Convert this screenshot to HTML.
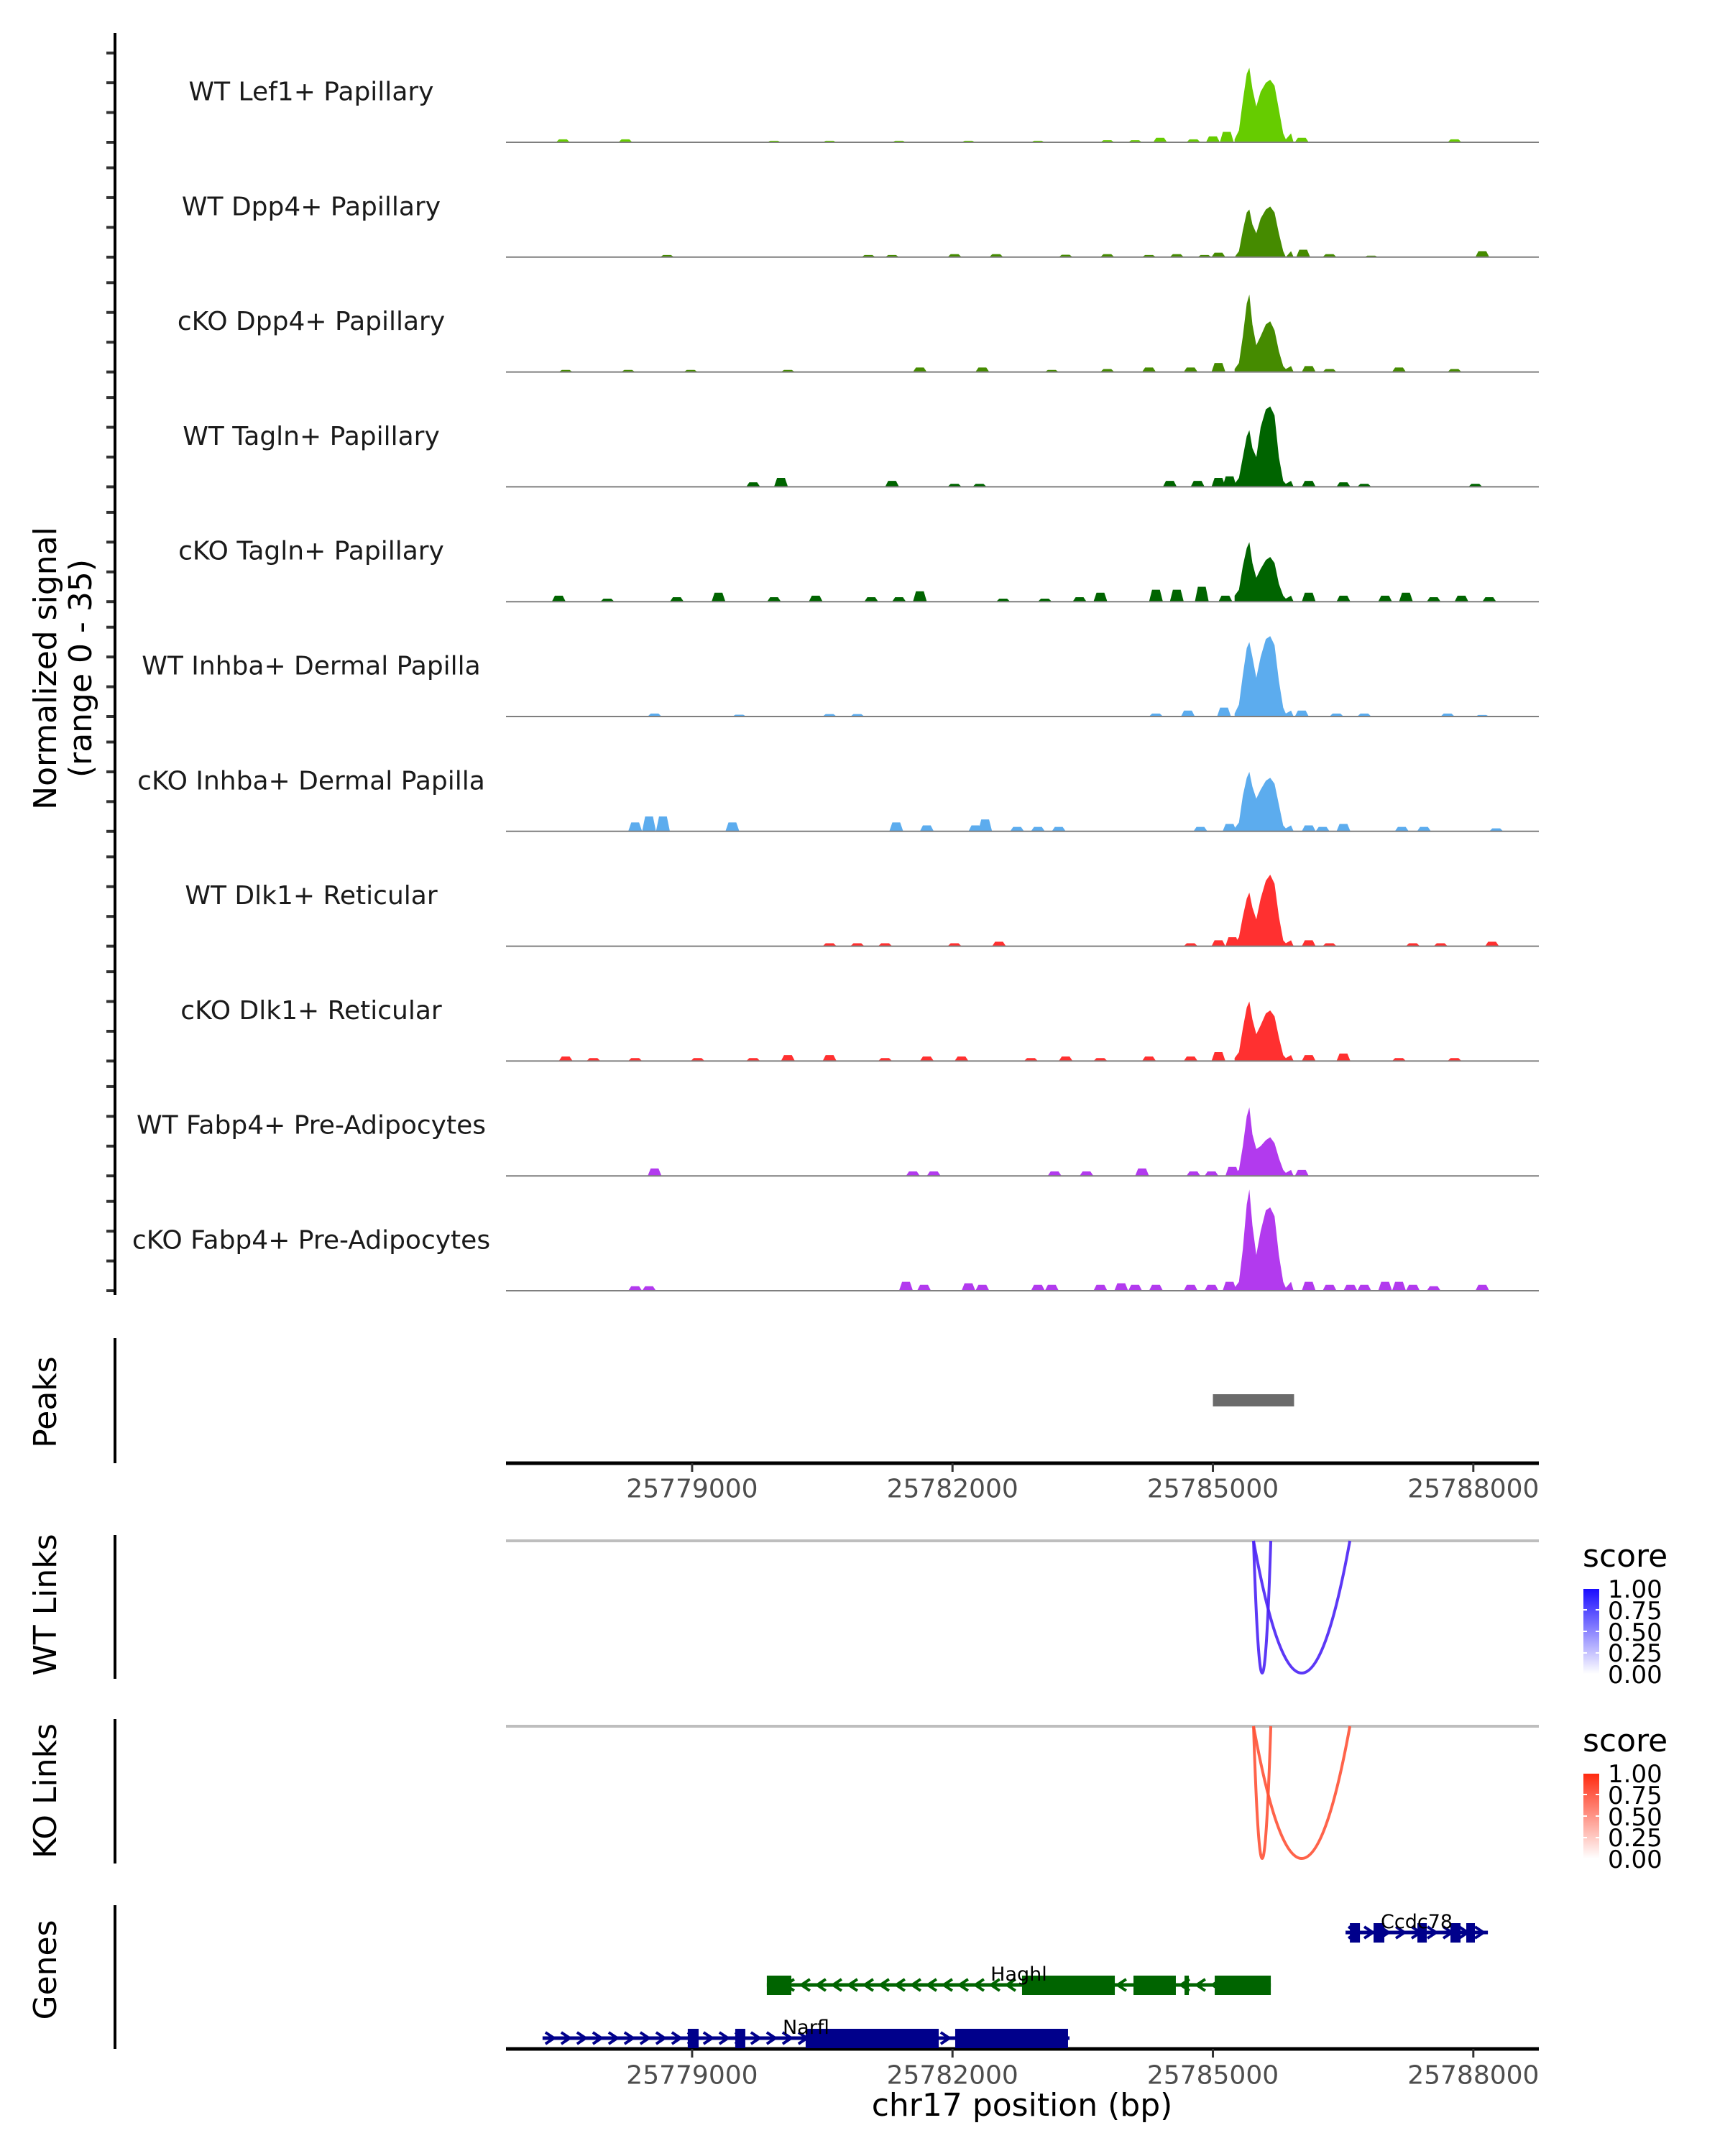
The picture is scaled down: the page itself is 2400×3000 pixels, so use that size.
<!DOCTYPE html>
<html><head><meta charset="utf-8"><style>
html,body{margin:0;padding:0;background:#fff;}
svg{display:block;font-family:"DejaVu Sans","Liberation Sans",sans-serif;}
</style></head><body>
<svg id="chart" xmlns="http://www.w3.org/2000/svg" width="2400" height="3000" viewBox="0 0 2400 3000">
<rect width="2400" height="3000" fill="#fff"/>
<g id="tracks"></g>
<g id="axes"></g>
<g id="peaks"></g>
<g id="links"></g>
<g id="genes"></g>
<text transform="translate(78,930) rotate(-90)" text-anchor="middle" font-size="44" fill="#000">Normalized signal</text>
<text transform="translate(127,930) rotate(-90)" text-anchor="middle" font-size="44" fill="#000">(range 0 - 35)</text>
<text transform="translate(78,1951) rotate(-90)" text-anchor="middle" font-size="44" fill="#000">Peaks</text>
<text transform="translate(78,2233) rotate(-90)" text-anchor="middle" font-size="44" fill="#000">WT Links</text>
<text transform="translate(78,2492) rotate(-90)" text-anchor="middle" font-size="44" fill="#000">KO Links</text>
<text transform="translate(78,2741) rotate(-90)" text-anchor="middle" font-size="44" fill="#000">Genes</text>
<text x="1422" y="2944" text-anchor="middle" font-size="44" fill="#000">chr17 position (bp)</text>
<defs>
<linearGradient id="gblue" x1="0" y1="1" x2="0" y2="0"><stop offset="0" stop-color="#ffffff"/><stop offset="1" stop-color="#1a0dff"/></linearGradient>
<linearGradient id="gred" x1="0" y1="1" x2="0" y2="0"><stop offset="0" stop-color="#ffffff"/><stop offset="1" stop-color="#ff2a10"/></linearGradient>
</defs>
<g transform="translate(-25,-25)">
<text x="2227" y="2205" font-size="44" fill="#000">score</text>
<rect x="2228" y="2236" width="22" height="118" fill="url(#gblue)"/>
<g font-size="34" fill="#000"><text x="2262" y="2248">1.00</text><text x="2262" y="2278">0.75</text><text x="2262" y="2308">0.50</text><text x="2262" y="2337">0.25</text><text x="2262" y="2367">0.00</text></g>
<g stroke="#fff" stroke-width="2"><line x1="2228" y1="2265" x2="2233" y2="2265"/><line x1="2245" y1="2265" x2="2250" y2="2265"/><line x1="2228" y1="2295" x2="2233" y2="2295"/><line x1="2245" y1="2295" x2="2250" y2="2295"/><line x1="2228" y1="2325" x2="2233" y2="2325"/><line x1="2245" y1="2325" x2="2250" y2="2325"/></g>
</g>
<g transform="translate(-25,-27)">
<text x="2227" y="2464" font-size="44" fill="#000">score</text>
<rect x="2228" y="2495" width="22" height="118" fill="url(#gred)"/>
<g font-size="34" fill="#000"><text x="2262" y="2507">1.00</text><text x="2262" y="2537">0.75</text><text x="2262" y="2567">0.50</text><text x="2262" y="2596">0.25</text><text x="2262" y="2626">0.00</text></g>
<g stroke="#fff" stroke-width="2"><line x1="2228" y1="2524" x2="2233" y2="2524"/><line x1="2245" y1="2524" x2="2250" y2="2524"/><line x1="2228" y1="2554" x2="2233" y2="2554"/><line x1="2245" y1="2554" x2="2250" y2="2554"/><line x1="2228" y1="2584" x2="2233" y2="2584"/><line x1="2245" y1="2584" x2="2250" y2="2584"/></g>
</g>
</svg>
<script>
const trackNames = ["WT Lef1+ Papillary","WT Dpp4+ Papillary","cKO Dpp4+ Papillary","WT Tagln+ Papillary","cKO Tagln+ Papillary","WT Inhba+ Dermal Papilla","cKO Inhba+ Dermal Papilla","WT Dlk1+ Reticular","cKO Dlk1+ Reticular","WT Fabp4+ Pre-Adipocytes","cKO Fabp4+ Pre-Adipocytes"];
const trackColors = ["#66CC00","#458B00","#458B00","#006400","#006400","#5CACEE","#5CACEE","#FF3030","#FF3030","#B23AEE","#B23AEE"];
const peakBp = [25785250,25785300,25785345,25785390,25785420,25785455,25785500,25785550,25785610,25785660,25785710,25785760,25785810,25785840,25785900,25785930];
const peakVals = [
 [1,4,14,23,25,18,12,17,20,21,19,11,3,1,3,0],
 [0,2,9,15,16,11,8,13,16,17,15,8,2,0,2,0],
 [1,3,12,23,26,16,9,12,16,17,14,7,2,1,2,0],
 [1,3,10,17,19,13,10,20,26,27,24,10,2,1,2,0],
 [2,4,12,18,20,13,8,11,14,15,13,6,2,1,2,0],
 [1,4,14,23,25,20,13,20,26,27,24,12,3,1,2,0],
 [1,3,12,18,20,15,11,14,17,18,16,9,2,1,2,0],
 [1,3,10,16,18,13,9,16,22,24,21,10,2,1,2,0],
 [1,3,11,18,20,14,9,12,16,17,15,8,2,1,2,0],
 [1,2,10,20,23,14,9,10,12,13,11,6,2,1,2,0],
 [1,3,14,29,34,22,12,20,27,28,25,12,3,1,3,0]
];
const bumps = [
 [[25777512,1],[25778232,1],[25779944,0.5],[25780584,0.5],[25781384,0.5],[25782184,0.5],[25782984,0.5],[25783784,0.7],[25784104,0.7],[25784392,1.5],[25784776,1],[25785000,2],[25785160,3.5],[25786024,1.5],[25787784,1]],
 [[25778712,0.7],[25781032,0.7],[25781304,0.7],[25782024,1],[25782504,1],[25783304,0.8],[25783784,1],[25784264,0.7],[25784584,1],[25784904,0.7],[25785064,1.5],[25786040,2.5],[25786344,1],[25786824,0.5],[25788104,2]],
 [[25777544,0.7],[25778264,0.7],[25778984,0.7],[25780104,0.7],[25781624,1.5],[25782344,1.5],[25783144,0.7],[25783784,1],[25784264,1.5],[25784744,1.5],[25785064,3],[25786104,2],[25786344,1],[25787144,1.5],[25787784,1]],
 [[25779704,1.5],[25780024,3],[25781304,2],[25782024,1],[25782312,1],[25784504,2],[25784824,2],[25785064,3],[25785192,3.5],[25786104,2],[25786504,1.5],[25786744,1],[25788024,1]],
 [[25777464,2],[25778024,1],[25778824,1.5],[25779304,3],[25779944,1.5],[25780424,2],[25781064,1.5],[25781384,1.5],[25781624,3.5],[25782584,1],[25783064,1],[25783464,1.5],[25783704,3],[25784344,4],[25784584,4],[25784872,5],[25785144,2],[25786104,3],[25786504,2],[25786984,2],[25787224,3],[25787544,1.5],[25787864,2],[25788184,1.5]],
 [[25778568,1],[25779544,0.6],[25780584,0.8],[25780904,0.8],[25784344,1],[25784712,2],[25785128,3],[25786024,2],[25786424,1],[25786744,1],[25787704,1],[25788104,0.5]],
 [[25778344,3],[25778504,5],[25778664,5],[25779464,3],[25781352,3],[25781704,2],[25782264,2],[25782376,4],[25782744,1.5],[25782984,1.5],[25783224,1.5],[25784856,1.5],[25785192,2.5],[25786104,2],[25786264,1.5],[25786504,2.5],[25787176,1.5],[25787432,1.5],[25788264,1]],
 [[25780584,1],[25780904,1],[25781224,1],[25782024,1],[25782536,1.5],[25784744,1],[25785064,2],[25785224,3],[25786104,2],[25786344,1],[25787304,1],[25787624,1],[25788216,1.5]],
 [[25777544,1.5],[25777864,1],[25778344,1],[25779064,1],[25779704,1],[25780104,2],[25780584,2],[25781224,1],[25781704,1.5],[25782104,1.5],[25782904,1],[25783304,1.5],[25783704,1],[25784264,1.5],[25784744,1.5],[25785064,3],[25786104,2],[25786504,2.5],[25787144,1],[25787784,1]],
 [[25778568,2.5],[25781544,1.5],[25781784,1.5],[25783176,1.5],[25783544,1.5],[25784184,2.5],[25784776,1.5],[25784984,1.5],[25785224,3],[25786024,2]],
 [[25778344,1.5],[25778504,1.5],[25781464,3],[25781672,2],[25782184,2.5],[25782344,2],[25782984,2],[25783144,2],[25783704,2],[25783944,2.5],[25784104,2],[25784344,2],[25784744,2],[25784984,2],[25785192,3],[25786104,3],[25786344,2],[25786584,2],[25786744,2],[25786984,3],[25787144,3],[25787304,2],[25787544,1.5],[25788104,2]]
];
const xTicks = [25779000,25782000,25785000,25788000];
const yTicks = [0,10,20,30];
const peakRegions = [[25785000,25785935]];
const wtLinks = [[25785468,25785667,0.8],[25785468,25786578,0.8]];
const koLinks = [[25785468,25785667,0.8],[25785468,25786578,0.8]];
const geneNames = ["Ccdc78","Haghl","Narfl"];
const geneStrand = [1,-1,1];
const geneSpan = [[25786528,25788168],[25779861,25785667],[25777277,25783348]];
const geneExons = [
 [[25786578,25786694],[25786851,25786975],[25787356,25787464],[25787737,25787853],[25787919,25788018]],
 [[25779861,25780143],[25782801,25783870],[25784085,25784573],[25784673,25784723],[25785021,25785667]],
 [[25778950,25779075],[25779497,25779613],[25780308,25781841],[25782031,25783331]]
];

const NS="http://www.w3.org/2000/svg";
const X0=704, X1=2141, B0=25776856, B1=25788755;
function xs(bp){return X0+(bp-B0)/(B1-B0)*(X1-X0);}
const base0=198, step=159.8, TH=145, YMAX=35;
function ys(i,v){return base0+step*i - v/YMAX*TH;}
function mk(tag,attrs,parent){const e=document.createElementNS(NS,tag);for(const k in attrs)e.setAttribute(k,attrs[k]);parent.appendChild(e);return e;}
const gT=document.getElementById('tracks'), gA=document.getElementById('axes');

trackNames.forEach((name,i)=>{
  const g=mk('g',{},gT);
  
  
  const base=ys(i,0);
  const lab=mk('text',{x:433,y:base-70,'text-anchor':'middle','dominant-baseline':'central','font-size':36,fill:'#1a1a1a'},g);
  lab.textContent=name;
  
  
  bumps[i].forEach(([bp,h])=>{
    const p=mk('polygon',{fill:trackColors[i],points:[[xs(bp-80),base],[xs(bp-45),ys(i,h)],[xs(bp+45),ys(i,h)],[xs(bp+80),base]].map(q=>q.join(',')).join(' ')},g);
    
    
  });
  let pts=[[xs(peakBp[0]),base]];
  peakBp.forEach((bp,j)=>pts.push([xs(bp),ys(i,peakVals[i][j])]));
  pts.push([xs(peakBp[peakBp.length-1]),base]);
  const pk=mk('polygon',{fill:trackColors[i],points:pts.map(q=>q.join(',')).join(' ')},g);
  
  
  const bl=mk('line',{x1:X0,x2:X1,y1:base,y2:base,stroke:'#7f7f7f','stroke-width':2},g);
  
  
  yTicks.forEach(t=>{const tk=mk('line',{x1:148,x2:160,y1:ys(i,t),y2:ys(i,t),stroke:'#333','stroke-width':4},gA);
    
    });
});
mk('line',{x1:160,x2:160,y1:46,y2:1802,stroke:'#000','stroke-width':4},gA);
[[1862,2036],[2136,2336],[2392,2593],[2651,2851]].forEach(([a,b])=>mk('line',{x1:160,x2:160,y1:a,y2:b,stroke:'#000','stroke-width':4},gA));
[[2036,2072],[2851,2888]].forEach(([ay,ly],k)=>{
  const ax=mk('line',{x1:X0,x2:X1,y1:ay,y2:ay,stroke:'#000','stroke-width':5},gA);
  
  
  xTicks.forEach(t=>{
    mk('line',{x1:xs(t),x2:xs(t),y1:ay,y2:ay+12,stroke:'#333','stroke-width':3},gA);
    const tl=mk('text',{x:xs(t),y:ly,'text-anchor':'middle','dominant-baseline':'central','font-size':36,fill:'#4d4d4d'},gA);
    tl.textContent=t;
    
    
  });
});
const gP=document.getElementById('peaks');
peakRegions.forEach(([s,e])=>{const r=mk('rect',{x:xs(s),y:1940,width:xs(e)-xs(s),height:17,fill:'#6b6b6b'},gP);
  
  });
const gL=document.getElementById('links');
function drawLinks(arr,top,color,nm){
  mk('line',{x1:X0,x2:X1,y1:top,y2:top,stroke:'#bebebe','stroke-width':4},gL);
  arr.forEach(([s,e,sc])=>{
    const d=368; const a=xs(s), b=xs(e);
    const p=mk('path',{d:`M${a},${top} Q${(a+b)/2},${top+d} ${b},${top}`,fill:'none',stroke:color,'stroke-width':4,'stroke-opacity':0.5+sc*0.5},gL);
    
    
  });
}
drawLinks(wtLinks,2144,'#4a22f5','wt-link');
drawLinks(koLinks,2402,'#ff5236','ko-link');
const gG=document.getElementById('genes');
const geneY=[2689,2762,2836], geneCol=['#00008B','#006400','#00008B'];
geneNames.forEach((n,i)=>{
  const g=mk('g',{},gG);
  
  
  const y=geneY[i], c=geneCol[i];
  const [s,e]=geneSpan[i];
  mk('line',{x1:xs(s),x2:xs(e),y1:y,y2:y,stroke:c,'stroke-width':5},g);
  for(let x=xs(s)+10;x<xs(e)-4;x+=22){
    const dx=geneStrand[i]*6;
    mk('polyline',{points:`${x-dx},${y-8} ${x+dx},${y} ${x-dx},${y+8}`,fill:'none',stroke:c,'stroke-width':4},g);
  }
  geneExons[i].forEach(([a,b])=>mk('rect',{x:xs(a),y:y-13,width:Math.max(6,xs(b)-xs(a)),height:27,fill:c},g));
  const t=mk('text',{x:xs((s+e)/2),y:y-6,'text-anchor':'middle','font-size':27,fill:'#000'},g);
  t.textContent=n;
  
  
});
</script>
</body></html>
